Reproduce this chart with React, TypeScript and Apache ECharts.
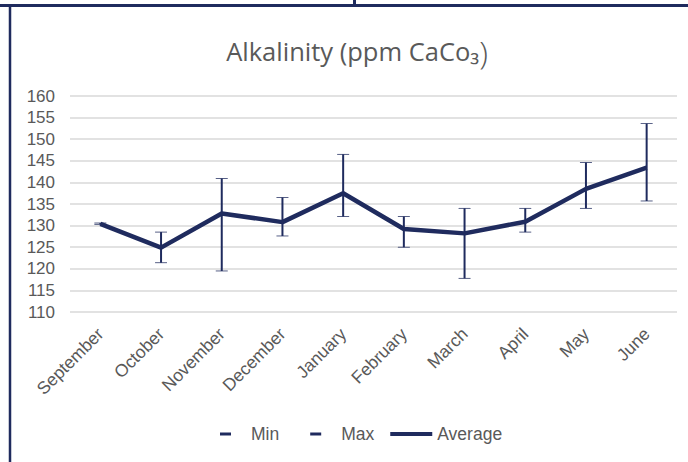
import React, { useEffect, useRef } from "react";
import * as echarts from "echarts";

const months = ["September", "October", "November", "December", "January", "February", "March", "April", "May", "June"];
const averageValues = [130.4, 124.9, 132.8, 130.8, 137.5, 129.2, 128.2, 130.9, 138.5, 143.4];
const minValues = [130.3, 121.4, 119.5, 127.6, 132.1, 125.0, 117.8, 128.5, 134.0, 135.7];
const maxValues = [130.6, 128.5, 140.9, 136.5, 146.5, 132.1, 134.0, 134.0, 144.6, 153.6];
const yMin = 110;
const yMax = 160;
const yStep = 5;

const NAVY = "#1F2B5E";
const GREY = "#595959";
const DASH = "path://M0,0H12V3H0Z";
const LEGEND_DASH = "path://M0,0M40,14M15,5.5H26V8.5H15Z";
const LEGEND_LINE = "path://M0,0M42,14M0,5H42V9H0Z";

export default function App() {
  const ref = useRef<HTMLDivElement>(null);
  useEffect(() => {
    if (!ref.current) return;
    const chart = echarts.init(ref.current, null, { renderer: "svg" });
    const hiLo = months.map((_, i) => [i, minValues[i], maxValues[i]]);
    chart.setOption({
      animation: false,
      backgroundColor: "#ffffff",
      title: {
        text: "{a|Alkalinity (ppm CaCo₃}{b|)}",
        left: 352,
        textAlign: "center",
        top: 30,
        textStyle: {
          rich: {
            a: { fontFamily: "Open Sans", fontSize: 25.5, color: GREY, fontWeight: "normal" },
            b: { fontFamily: "Open Sans", fontSize: 32, color: GREY, fontWeight: 300 },
          },
        },
      },
      legend: {
        data: [
          { name: "Min", icon: LEGEND_DASH, itemStyle: { color: NAVY } },
          { name: "Max", icon: LEGEND_DASH, itemStyle: { color: NAVY } },
          { name: "Average", icon: LEGEND_LINE, itemStyle: { color: NAVY } },
        ],
        bottom: 14,
        left: 200,
        itemWidth: 42,
        itemHeight: 14,
        itemGap: 16,
        textStyle: { fontFamily: "Liberation Sans", fontSize: 17.5, color: GREY },
      },
      grid: { left: 70, right: 11, top: 96, bottom: 150 },
      xAxis: {
        type: "category",
        data: months,
        boundaryGap: true,
        axisLine: { show: false },
        axisTick: { show: false },
        axisLabel: {
          rotate: 45,
          margin: 19,
          interval: 0,
          fontFamily: "Liberation Sans",
          fontSize: 17.5,
          color: GREY,
        },
      },
      yAxis: {
        type: "value",
        min: yMin,
        max: yMax,
        interval: yStep,
        axisLine: { show: false },
        axisTick: { show: false },
        axisLabel: { margin: 15, fontFamily: "Liberation Sans", fontSize: 17, color: GREY },
        splitLine: { lineStyle: { color: "#D9D9D9", width: 1.5 } },
      },
      series: [
        {
          name: "HighLow",
          type: "custom",
          data: hiLo,
          z: 2,
          renderItem: (params: any, api: any) => {
            const p1 = api.coord([api.value(0), api.value(1)]);
            const p2 = api.coord([api.value(0), api.value(2)]);
            return {
              type: "line",
              shape: { x1: p1[0], y1: p1[1], x2: p2[0], y2: p2[1] },
              style: { stroke: NAVY, lineWidth: 2 },
            };
          },
        },
        {
          name: "Min",
          type: "line",
          data: minValues,
          symbol: DASH,
          symbolSize: [12, 3],
          symbolKeepAspect: true,
          showSymbol: true,
          lineStyle: { opacity: 0 },
          itemStyle: { color: NAVY },
          z: 3,
        },
        {
          name: "Max",
          type: "line",
          data: maxValues,
          symbol: DASH,
          symbolSize: [12, 3],
          symbolKeepAspect: true,
          showSymbol: true,
          lineStyle: { opacity: 0 },
          itemStyle: { color: NAVY },
          z: 3,
        },
        {
          name: "Average",
          type: "line",
          data: averageValues,
          symbol: "none",
          lineStyle: { color: NAVY, width: 4.5 },
          itemStyle: { color: NAVY },
          z: 4,
        },
      ],
      graphic: [
        { type: "line", shape: { x1: 0, y1: 5.5, x2: 688, y2: 5.5 }, style: { stroke: NAVY, lineWidth: 3 } },
        { type: "line", shape: { x1: 354.5, y1: 0, x2: 354.5, y2: 5 }, style: { stroke: NAVY, lineWidth: 3 } },
        { type: "line", shape: { x1: 10, y1: 5, x2: 10, y2: 462 }, style: { stroke: NAVY, lineWidth: 2.5 } },
      ],
    });
    return () => chart.dispose();
  }, []);
  return <div ref={ref} style={{ position: "absolute", left: 0, top: 0, width: 688, height: 462 }} />;
}
